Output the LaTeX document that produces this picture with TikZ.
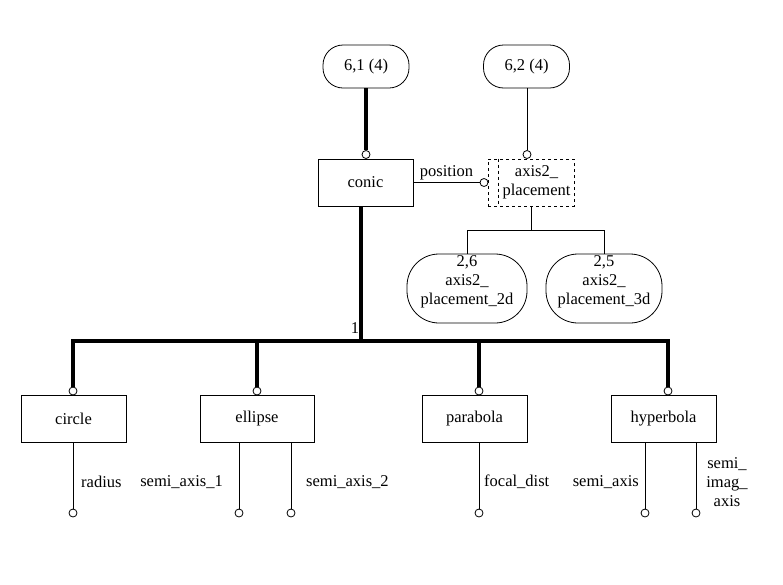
\documentclass[tikz,border=0pt]{standalone}
\usepackage{fontspec}
\setmainfont{Liberation Serif}
\begin{document}
\begin{tikzpicture}[
  x=1pt,
  y=-1pt,
  line join=miter,
  every node/.style={font=\fontsize{16.5}{19}\selectfont},
  entity/.style={draw, line width=0.8pt, minimum width=105pt,
    minimum height=47pt, inner sep=0pt},
  pill/.style={draw, line width=0.8pt, rounded corners=20pt,
    minimum width=86pt, minimum height=43pt, inner sep=0pt},
  bigpill/.style={draw, line width=0.8pt, rounded corners=32pt,
    minimum height=69pt, inner sep=0pt, align=center},
  selbox/.style={draw, dashed, line width=0.8pt, minimum width=86pt,
    minimum height=47pt, inner sep=0pt},
  ring/.style={circle, draw, line width=0.8pt, fill=white,
    inner sep=0pt, minimum size=8pt},
  rel/.style={line width=4pt},
  attr/.style={line width=0.8pt},
  lbl/.style={inner sep=0pt, align=center}
]
  \useasboundingbox (0,0) rectangle (783,584);

  \def\busy{340.7}
  \def\boxy{418.5}
  \def\ringy{513}
  \def\laby{482}

  % Ссылки на другие страницы
  \node[pill] (t61) at (366,66.5) {6,1 (4)};
  \node[pill] (t62) at (526.5,66.5) {6,2 (4)};

  % conic и axis2_placement
  \node[entity, minimum width=95pt] (conic) at (365.5,182.5) {conic};
  \node[ring] (rconic) at (366,154.5) {};
  \draw[rel] (t61.south) -- (rconic.north);

  \node[selbox] (sel) at (531,182.5) {};
  \draw[dashed, line width=0.8pt]
    ([xshift=11pt]sel.north west) -- ([xshift=11pt]sel.south west);
  \node[lbl] (selt) at (536.5,182.5) {axis2\_\\placement};
  \node[ring] (rsel) at (527,154.5) {};
  \draw[attr] (rsel.north) -- (rsel.north |- t62.south);

  \node[ring] (rpos) at (484,182.5) {};
  \draw[attr] (conic.east) -- (rpos.west)
    node[midway, above, inner sep=2pt] (lpos) {position};

  % Подтипы axis2_placement
  \node[bigpill, minimum width=120pt] (p26) at (467,288.5) {};
  \node[lbl] (p26t) at (467,282) {2,6\\axis2\_\\placement\_2d};
  \node[bigpill, minimum width=116pt] (p25) at (604,288.5) {};
  \node[lbl] (p25t) at (604,282) {2,5\\axis2\_\\placement\_3d};
  \coordinate (split) at (531,230);
  \draw[attr] (sel.south) -- (split);
  \draw[attr] (p26.north) -- (p26.north |- split)
    -- (p25.north |- split) -- (p25.north);

  % Подтипы conic
  \node[entity] (cir) at (73.5,\boxy) {circle};
  \node[entity, minimum width=114pt] (ell) at (257,\boxy) {ellipse};
  \node[entity] (par) at (474.5,\boxy) {parabola};
  \node[entity] (hyp) at (663.5,\boxy) {hyperbola};

  \node[ring] (rcir) at (73,391) {};
  \node[ring] (rell) at (257,391) {};
  \node[ring] (rpar) at (479,391) {};
  \node[ring] (rhyp) at (668,391) {};

  \coordinate (bus) at (361,\busy);
  \draw[rel] ([xshift=-4.5pt]conic.south) -- (bus);
  \draw[rel] (rcir.north) -- (rcir.north |- bus)
    -- (rhyp.north |- bus) -- (rhyp.north);
  \draw[rel] (rell.north |- bus) -- (rell.north);
  \draw[rel] (rpar.north |- bus) -- (rpar.north);
  \node[lbl] (lone) at (355,328) {1};

  % Атрибуты
  \node[ring] (arad) at (73,\ringy) {};
  \node[ring] (asa1) at (239,\ringy) {};
  \node[ring] (asa2) at (291,\ringy) {};
  \node[ring] (afoc) at (479,\ringy) {};
  \node[ring] (asax) at (645,\ringy) {};
  \node[ring] (asim) at (696,\ringy) {};

  \draw[attr] (arad.north) -- (arad.north |- cir.south);
  \draw[attr] (asa1.north) -- (asa1.north |- ell.south);
  \draw[attr] (asa2.north) -- (asa2.north |- ell.south);
  \draw[attr] (afoc.north) -- (afoc.north |- par.south);
  \draw[attr] (asax.north) -- (asax.north |- hyp.south);
  \draw[attr] (asim.north) -- (asim.north |- hyp.south);

  \node[lbl, anchor=west] (lrad) at (81,\laby) {radius};
  \node[lbl, anchor=east] (lsa1) at (223,\laby) {semi\_axis\_1};
  \node[lbl, anchor=west] (lsa2) at (306,\laby) {semi\_axis\_2};
  \node[lbl, anchor=west] (lfoc) at (484,\laby) {focal\_dist};
  \node[lbl, anchor=east] (lsax) at (639,\laby) {semi\_axis};
  \node[lbl] (lsim) at (727,\laby) {semi\_\\imag\_\\axis};
\end{tikzpicture}
\end{document}
